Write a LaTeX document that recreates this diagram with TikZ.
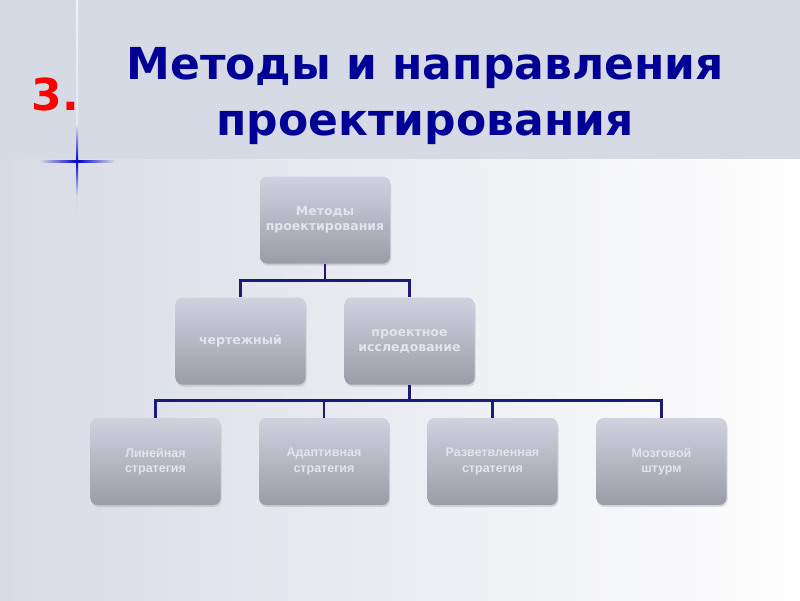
\documentclass[tikz,border=0pt]{standalone}
\usepackage{fontspec}
\setmainfont{DejaVu Sans}
\newfontfamily\narrowfont{Liberation Sans}
\usepackage{xcolor}
\usetikzlibrary{calc, shadows, shapes.geometric}
\definecolor{bandGray}{RGB}{214,218,229}
\definecolor{lowGray}{RGB}{216,219,229}
\definecolor{titleBlue}{RGB}{0,0,150}
\definecolor{linkBlue}{RGB}{28,28,120}
\definecolor{boxTop}{RGB}{208,211,223}
\definecolor{boxBot}{RGB}{154,156,168}
\definecolor{boxText}{RGB}{226,228,235}

\begin{document}
\begin{tikzpicture}[x=1pt, y=-1pt,
	box/.style={rectangle, rounded corners=7pt, minimum width=130pt, minimum height=87pt, top color=boxTop, bottom color=boxBot, draw=none, text=boxText, align=center, font=\bfseries\fontsize{12.5}{15}\selectfont, drop shadow={opacity=0.25, shadow xshift=1pt, shadow yshift=-2pt}},
	lowbox/.style={box, font=\narrowfont\bfseries\fontsize{12.5}{15.5}\selectfont},
	link/.style={draw=linkBlue, line width=2.6pt}]
	\useasboundingbox (0,0) rectangle (800,600);
	\fill[bandGray]	(0,0) rectangle (800,160);
	\shade[left color=lowGray, right color=white!98!lowGray]	(0,160) rectangle (800,600);
	\shade[left color=lowGray, right color=white]	(0,159) rectangle (800,161.5);
	\shade[top color=white!70!bandGray, bottom color=lowGray]	(76.2,0) rectangle (77.8,210);
	\shade[left color=bandGray, right color=bandGray, middle color=blue!80!black]	(40,160) rectangle (114,162);
	\shade[top color=bandGray, bottom color=lowGray, middle color=blue!80!black]	(76,126) rectangle (78,196);

	\node[anchor=base west, text=red, font=\bfseries\fontsize{44}{50}\selectfont] (num) at (28,110) {3.};
	\node[anchor=base, text=titleBlue, font=\bfseries\fontsize{44}{50}\selectfont] (title1) at (425,79) {Методы и направления};
	\node[anchor=base, text=titleBlue, font=\bfseries\fontsize{44}{50}\selectfont] (title2) at (425,135) {проектирования};

	\node[box] (methods) at (325,220) {Методы\\проектирования};
	\node[box] (draft) at (240.5,341) {чертежный};
	\node[box] (study) at (409.5,341) {проектное\\исследование};

	\node[lowbox] (linear) at (155.5,461.5) {Линейная\\стратегия};
	\node[lowbox] (adapt) at (324,461.5) {Адаптивная\\стратегия};
	\node[lowbox] (branch) at (492.5,461.5) {Разветвленная\\стратегия};
	\node[lowbox] (storm) at (661.5,461.5) {Мозговой\\штурм};

	\foreach \n in {draft, study}
		\draw[link]	(methods.south) -- ++(0,17) -| (\n.north);
	\foreach \n in {linear, adapt, branch, storm}
		\draw[link]	(study.south) -- ++(0,16) -| (\n.north);
\end{tikzpicture}
\end{document}
